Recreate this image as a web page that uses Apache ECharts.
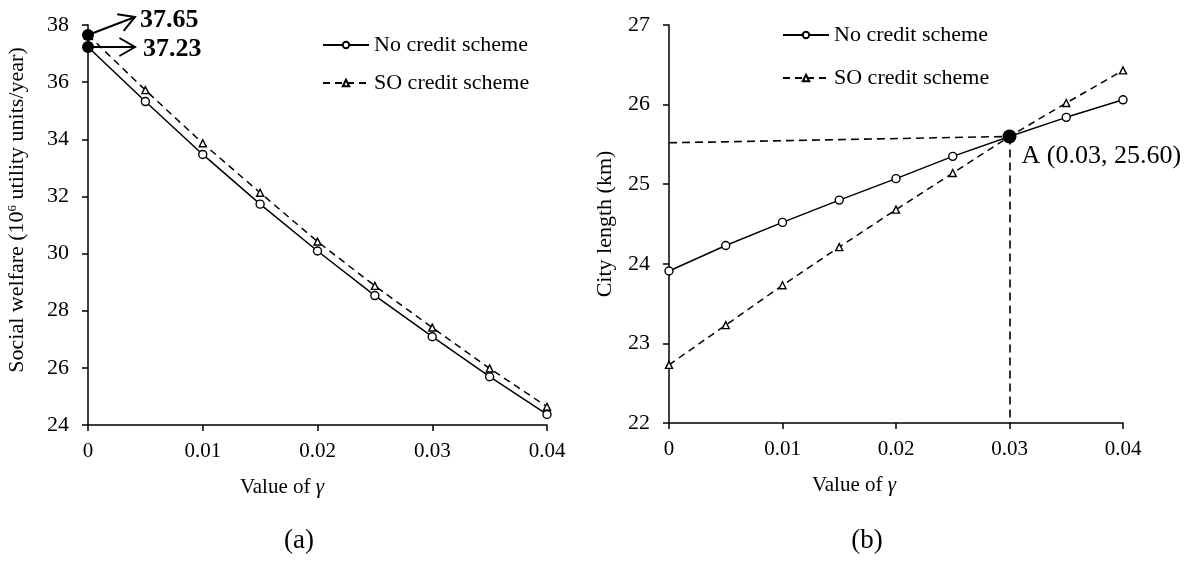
<!DOCTYPE html>
<html>
<head>
<meta charset="utf-8">
<script src="https://cdn.jsdelivr.net/npm/echarts@6/dist/echarts.min.js"></script>
<style>
  html, body { margin: 0; padding: 0; background: #fff; }
  #chart { width: 1203px; height: 563px; }
</style>
</head>
<body>
<div id="chart"></div>
<script>
// Values of gamma along both x axes
const gammaValues = [0, 0.005, 0.01, 0.015, 0.02, 0.025, 0.03, 0.035, 0.04];

// (a) Social welfare, 10^6 utility units/year
const welfareNoCredit = [37.23, 35.32, 33.47, 31.73, 30.09, 28.53, 27.09, 25.69, 24.37];
const welfareSOCredit = [37.65, 35.72, 33.86, 32.13, 30.42, 28.87, 27.41, 25.98, 24.64];

// (b) City length, km
const lengthNoCredit = [23.91, 24.23, 24.52, 24.80, 25.07, 25.35, 25.60, 25.84, 26.06];
const lengthSOCredit = [22.73, 23.23, 23.73, 24.21, 24.68, 25.14, 25.60, 26.02, 26.43];

// Crossing point A and the start of its horizontal guide
const pointA = [0.03, 25.60];
const guideStartY = 25.52;

// Axis ranges
const xRange = { min: 0, max: 0.04, interval: 0.01 };
const welfareRange = { min: 24, max: 38, interval: 2 };
const lengthRange = { min: 22, max: 27, interval: 1 };

const SERIF = '"Liberation Serif", "Times New Roman", serif';
const BLACK = '#000';

const pairs = (ys) => gammaValues.map((g, i) => [g, ys[i]]);

function xAxisFor(gridIndex) {
  return {
    type: 'value', gridIndex,
    min: xRange.min, max: xRange.max, interval: xRange.interval,
    axisLine: { show: true, onZero: false, lineStyle: { color: BLACK, width: 1.5 } },
    axisTick: { show: true, length: 6, lineStyle: { color: BLACK, width: 1.5 } },
    axisLabel: { color: BLACK, fontFamily: SERIF, fontSize: 21, margin: 16 },
    splitLine: { show: false }
  };
}
function yAxisFor(gridIndex, range) {
  return {
    type: 'value', gridIndex,
    min: range.min, max: range.max, interval: range.interval,
    axisLine: { show: true, onZero: false, lineStyle: { color: BLACK, width: 1.5 } },
    axisTick: { show: true, length: 6, lineStyle: { color: BLACK, width: 1.5 } },
    axisLabel: { color: BLACK, fontFamily: SERIF, fontSize: 22, margin: 19 },
    splitLine: { show: false }
  };
}

const noCreditStyle = {
  type: 'line', symbol: 'circle', symbolSize: 8,
  lineStyle: { color: BLACK, width: 1.5, type: 'solid' },
  itemStyle: { color: '#fff', borderColor: BLACK, borderWidth: 1.4 },
  emphasis: { disabled: true }, z: 3
};
const soCreditStyle = {
  type: 'line', symbol: 'triangle', symbolSize: 7,
  lineStyle: { color: BLACK, width: 1.5, type: [7, 5] },
  itemStyle: { color: '#fff', borderColor: BLACK, borderWidth: 1.4 },
  emphasis: { disabled: true }, z: 2
};

function legendAt(left, top, gap) {
  return {
    orient: 'vertical', left, top, itemGap: gap, padding: 0,
    itemWidth: 46, itemHeight: 8, selectedMode: false,
    data: ['No credit scheme', 'SO credit scheme'],
    textStyle: { color: BLACK, fontFamily: SERIF, fontSize: 22, lineHeight: 22 }
  };
}

const chart = echarts.init(document.getElementById('chart'), null, { renderer: 'canvas' });

chart.setOption({
  animation: false,
  backgroundColor: '#fff',
  grid: [
    { left: 88, top: 25, width: 459, height: 400, containLabel: false, outerBoundsMode: 'none' },
    { left: 669, top: 25, width: 454, height: 398, containLabel: false, outerBoundsMode: 'none' }
  ],
  xAxis: [xAxisFor(0), xAxisFor(1)],
  yAxis: [yAxisFor(0, welfareRange), yAxisFor(1, lengthRange)],
  legend: [legendAt(322, 34, 16), legendAt(782, 24, 21)],
  series: [
    Object.assign({ name: 'SO credit scheme', xAxisIndex: 0, yAxisIndex: 0, data: pairs(welfareSOCredit) }, soCreditStyle),
    Object.assign({ name: 'No credit scheme', xAxisIndex: 0, yAxisIndex: 0, data: pairs(welfareNoCredit) }, noCreditStyle),
    {
      // highlighted welfare values at gamma = 0
      name: 'welfare-start', type: 'scatter', xAxisIndex: 0, yAxisIndex: 0,
      symbol: 'circle', symbolSize: 12, itemStyle: { color: BLACK, opacity: 1 },
      emphasis: { disabled: true }, silent: true, z: 5,
      data: [[gammaValues[0], welfareSOCredit[0]], [gammaValues[0], welfareNoCredit[0]]]
    },
    Object.assign({
      name: 'SO credit scheme', xAxisIndex: 1, yAxisIndex: 1, data: pairs(lengthSOCredit),
      markLine: {
        silent: true, symbol: 'none', label: { show: false },
        lineStyle: { color: BLACK, width: 1.6, type: [8, 5] },
        data: [
          [{ coord: [xRange.min, guideStartY] }, { coord: pointA }],
          [{ coord: pointA }, { coord: [pointA[0], lengthRange.min] }]
        ]
      }
    }, soCreditStyle),
    Object.assign({ name: 'No credit scheme', xAxisIndex: 1, yAxisIndex: 1, data: pairs(lengthNoCredit) }, noCreditStyle),
    {
      name: 'point-A', type: 'scatter', xAxisIndex: 1, yAxisIndex: 1,
      symbol: 'circle', symbolSize: 14, itemStyle: { color: BLACK, opacity: 1 },
      emphasis: { disabled: true }, silent: true, z: 5,
      data: [pointA],
      label: {
        show: true, position: 'right', distance: 5, offset: [0, 20],
        color: BLACK, fontFamily: SERIF, fontSize: 26,
        formatter: () => 'A (' + pointA[0].toFixed(2) + ', ' + pointA[1].toFixed(2) + ')'
      }
    }
  ]
});

// Arrows pointing from the gamma = 0 values to their labels
function arrow(start, dx, dy, text, textDx, textDy) {
  const end = [start[0] + dx, start[1] + dy];
  const len = Math.hypot(dx, dy);
  const ux = dx / len, uy = dy / len;
  const arm = 18, ang = Math.PI / 6;
  const rot = (a) => [
    end[0] - arm * (ux * Math.cos(a) - uy * Math.sin(a)),
    end[1] - arm * (ux * Math.sin(a) + uy * Math.cos(a))
  ];
  return [
    { type: 'polyline', silent: true, z: 10,
      shape: { points: [start, end] }, style: { stroke: BLACK, lineWidth: 2, fill: null } },
    { type: 'polyline', silent: true, z: 10,
      shape: { points: [rot(ang), end, rot(-ang)] }, style: { stroke: BLACK, lineWidth: 2, fill: null } },
    { type: 'text', silent: true, z: 10, x: end[0] + textDx, y: end[1] + textDy,
      style: { text, fill: BLACK, font: 'bold 26px ' + SERIF, align: 'left', verticalAlign: 'middle' } }
  ];
}

const pHigh = chart.convertToPixel({ gridIndex: 0 }, [gammaValues[0], welfareSOCredit[0]]);
const pLow = chart.convertToPixel({ gridIndex: 0 }, [gammaValues[0], welfareNoCredit[0]]);

const captionStyle = (text, size) => ({
  text, fill: BLACK, font: size + 'px ' + SERIF, align: 'center', verticalAlign: 'middle',
  rich: { g: { fontStyle: 'italic', fontSize: size, fontFamily: SERIF, fill: BLACK } }
});

chart.setOption({
  graphic: [
    ...arrow(pHigh, 47, -18, welfareSOCredit[0].toFixed(2), 5, 3),
    ...arrow(pLow, 47, 0, welfareNoCredit[0].toFixed(2), 8, 2),
    { type: 'text', silent: true, x: 17, y: 210, rotation: Math.PI / 2,
      style: {
        text: 'Social welfare ({n|10}{s|6}{n| utility units/year)}', fill: BLACK,
        font: '22px ' + SERIF, align: 'center', verticalAlign: 'middle',
        rich: {
          n: { fontSize: 22, fontFamily: SERIF, fill: BLACK },
          s: { fontSize: 13, fontFamily: SERIF, fill: BLACK, verticalAlign: 'top', padding: [0, 0, 8, 0] }
        }
      } },
    { type: 'text', silent: true, x: 605, y: 224, rotation: Math.PI / 2,
      style: { text: 'City length (km)', fill: BLACK, font: '22px ' + SERIF, align: 'center', verticalAlign: 'middle' } },
    { type: 'text', silent: true, x: 282, y: 487, style: captionStyle('Value of {g|γ}', 21) },
    { type: 'text', silent: true, x: 854, y: 485, style: captionStyle('Value of {g|γ}', 21) },
    { type: 'text', silent: true, x: 299, y: 541, style: captionStyle('(a)', 27) },
    { type: 'text', silent: true, x: 867, y: 541, style: captionStyle('(b)', 27) }
  ]
});
</script>
</body>
</html>
